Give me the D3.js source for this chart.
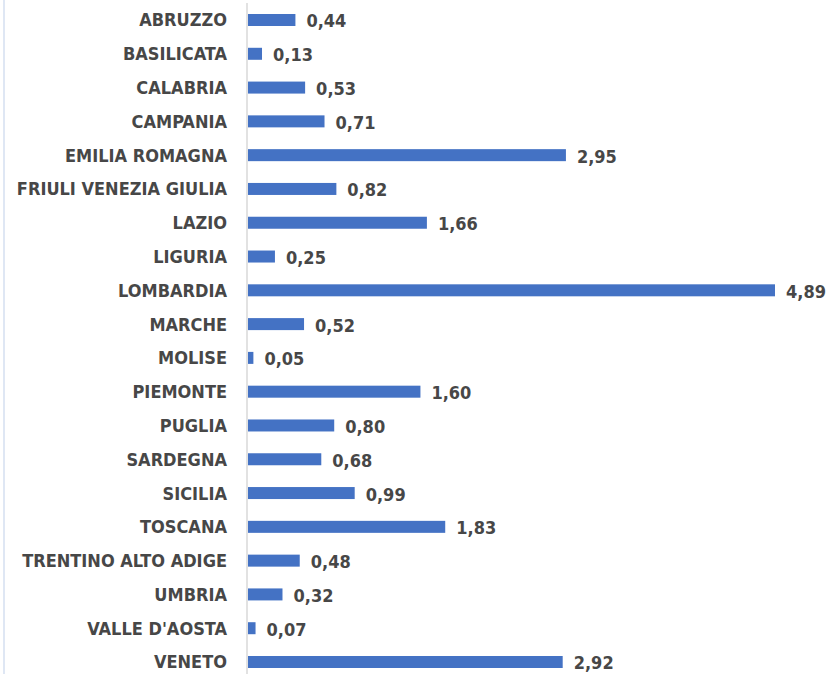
<!DOCTYPE html>
<html>
<head>
<meta charset="utf-8">
<script src="https://cdn.jsdelivr.net/npm/d3@7"></script>
<style>
	body { margin: 0; background: #fff; }
	svg { display: block; }
	.lbl { font-family: "DejaVu Sans Condensed", "DejaVu Sans", sans-serif; font-stretch: condensed; font-weight: bold; fill: #474747; }
</style>
</head>
<body>
<svg id="chart" width="829" height="674"></svg>
<script>
var regions = ["ABRUZZO", "BASILICATA", "CALABRIA", "CAMPANIA", "EMILIA ROMAGNA", "FRIULI VENEZIA GIULIA",
	"LAZIO", "LIGURIA", "LOMBARDIA", "MARCHE", "MOLISE", "PIEMONTE", "PUGLIA", "SARDEGNA", "SICILIA",
	"TOSCANA", "TRENTINO ALTO ADIGE", "UMBRIA", "VALLE D'AOSTA", "VENETO"];
var values = [0.44, 0.13, 0.53, 0.71, 2.95, 0.82, 1.66, 0.25, 4.89, 0.52, 0.05, 1.60, 0.80, 0.68, 0.99,
	1.83, 0.48, 0.32, 0.07, 2.92];

var svg = d3.select('#chart'),
	width = +svg.attr('width'),
	height = +svg.attr('height');

var data = regions.map(function (r, i) { return { name: r, value: values[i] }; });

var scaleX = d3.scaleLinear().domain([0, 4.89]).range([248, 775]);
var scaleY = d3.scalePoint().domain(regions).range([20, 662]);
var barH = 12;
var fmt = function (v) { return d3.format(".2f")(v).replace(".", ","); };

// faint left edge line from the background image
svg.append("line")
	.attr("x1", 4).attr("x2", 4).attr("y1", 0).attr("y2", height)
	.attr("stroke", "#dfe7f4").attr("stroke-width", 2);

// axis line
svg.append("line")
	.attr("x1", 247).attr("x2", 247).attr("y1", 3).attr("y2", height)
	.attr("stroke", "#d9d9d9").attr("stroke-width", 1.5);

svg.selectAll("rect.bar")
	.data(data)
	.enter().append("rect")
	.attr("class", "bar")
	.attr("x", scaleX(0))
	.attr("y", function (d) { return scaleY(d.name) - barH / 2; })
	.attr("width", function (d) { return scaleX(d.value) - scaleX(0); })
	.attr("height", barH)
	.attr("fill", "#4472c4");

svg.selectAll("text.cat")
	.data(data)
	.enter().append("text")
	.attr("class", "lbl cat")
	.attr("x", 227)
	.attr("y", function (d) { return scaleY(d.name); })
	.attr("dy", "0.36em")
	.attr("text-anchor", "end")
	.attr("font-size", 18)
	.text(function (d) { return d.name; });

svg.selectAll("text.val")
	.data(data)
	.enter().append("text")
	.attr("class", "lbl val")
	.attr("x", function (d) { return scaleX(d.value) + 11; })
	.attr("y", function (d) { return scaleY(d.name) + 1; })
	.attr("dy", "0.36em")
	.attr("font-size", 18)
	.text(function (d) { return fmt(d.value); });
</script>
</body>
</html>
